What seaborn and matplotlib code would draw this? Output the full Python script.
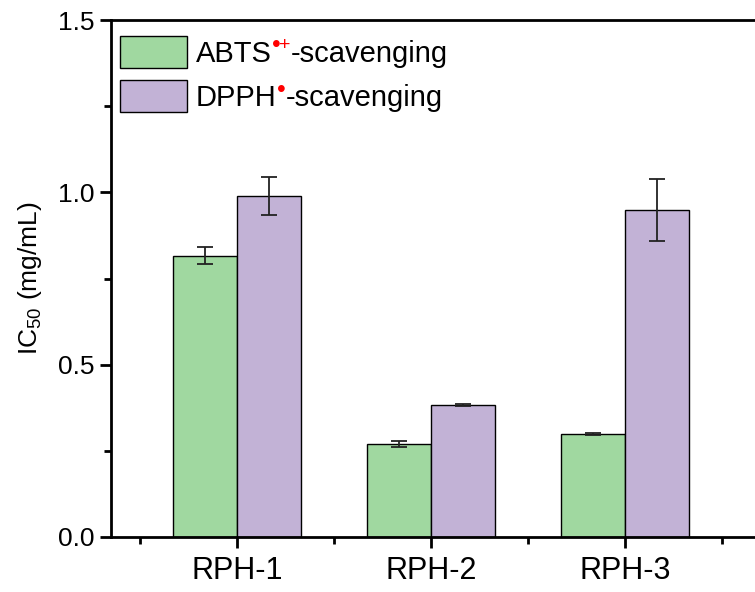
import matplotlib
matplotlib.use("Agg")
import matplotlib.pyplot as plt
from matplotlib.ticker import MultipleLocator, FixedLocator
from matplotlib.transforms import IdentityTransform
import seaborn as sns
import pandas as pd

categories = ["RPH-1", "RPH-2", "RPH-3"]
series_names = ["ABTS", "DPPH"]
series_charges = ["+", ""]
series_suffix = "-scavenging"
abts_values = [0.816, 0.270, 0.300]
abts_errors = [0.025, 0.009, 0.003]
dpph_values = [0.989, 0.383, 0.949]
dpph_errors = [0.056, 0.003, 0.090]
y_ticks = [0.0, 0.5, 1.0, 1.5]

sns.set_theme(style="ticks")
plt.rcParams["font.family"] = ["Liberation Sans", "DejaVu Sans"]
plt.rcParams["mathtext.default"] = "regular"
plt.rcParams["text.color"] = "black"
plt.rcParams["axes.labelcolor"] = "black"

df = pd.DataFrame({
    "cat": categories * 2,
    "series": [series_names[0]] * 3 + [series_names[1]] * 3,
    "val": abts_values + dpph_values,
})
errs = abts_errors + dpph_errors
vals = abts_values + dpph_values

W, H = 755, 592
fig = plt.figure(figsize=(W / 100, H / 100), dpi=100)
ax = fig.add_axes([111 / W, 1 - 537 / H, 1 - 111 / W, (537 - 20) / H])

colors = ["#A0D8A0", "#C2B2D6"]
sns.barplot(data=df, x="cat", y="val", hue="series", order=categories,
            hue_order=series_names, palette=colors, width=0.66,
            edgecolor="black", linewidth=1.0, errorbar=None, ax=ax,
            saturation=1)

bars = [p for p in ax.patches if p.get_width() > 0][:6]
for p, v, e in zip(bars, vals, errs):
    cx = p.get_x() + p.get_width() / 2
    ax.errorbar(cx, p.get_height(), yerr=e, fmt="none", ecolor="#222222",
                elinewidth=1.3, capsize=6, capthick=1.3, zorder=5)

ax.set_ylim(0, 1.5)
ax.set_xlim(-0.65, 2.67)
ax.set_yticks(y_ticks)
ax.set_yticklabels([f"{t:.1f}" for t in y_ticks])
ax.yaxis.set_minor_locator(MultipleLocator(0.25))
ax.xaxis.set_minor_locator(FixedLocator([-0.5, 0.5, 1.5, 2.5]))
ax.tick_params(axis="both", which="major", direction="out", length=8, width=2,
               pad=4, color="black", labelcolor="black")
ax.tick_params(axis="y", which="major", labelsize=19)
ax.tick_params(axis="x", which="major", labelsize=22, pad=6)
ax.tick_params(axis="both", which="minor", direction="out", length=5, width=2,
               color="black")
ax.set_xlabel("")
ax.set_ylabel("IC$_{50}$ (mg/mL)", fontsize=19, labelpad=10)

for s in ["left", "bottom", "top"]:
    ax.spines[s].set_linewidth(2)
    ax.spines[s].set_color("black")
ax.spines["right"].set_visible(False)

fs = 21
leg = ax.legend(loc="upper left", bbox_to_anchor=((120 - 111) / 644, 1 - (36 - 20) / 517),
                frameon=False, fontsize=fs,
                handlelength=2.3, handleheight=1.3, handletextpad=0.3,
                labelspacing=0.42, borderaxespad=0, borderpad=0)
for h in leg.legend_handles:
    h.set_edgecolor("black")
    h.set_linewidth(1.0)

fig.canvas.draw()
r = fig.canvas.get_renderer()
em = fs * 100 / 72
for t, charge in zip(leg.get_texts(), series_charges):
    bb = t.get_window_extent(r)
    baseline = bb.y0 + 0.212 * em
    dot = fig.text(bb.x1 + 0, baseline + 9, "\u2022", transform=IdentityTransform(),
                   ha="left", va="baseline", color="red", fontsize=18)
    last = dot.get_window_extent(r)
    if charge:
        pl = fig.text(last.x1 - 1, baseline + 11, charge, transform=IdentityTransform(),
                      ha="left", va="baseline", color="red", fontsize=14)
        last = pl.get_window_extent(r)
    fig.text(last.x1, bb.y0, series_suffix, transform=IdentityTransform(),
             ha="left", va="bottom", fontsize=fs, color="black")

fig.savefig("out.png", dpi=100)
